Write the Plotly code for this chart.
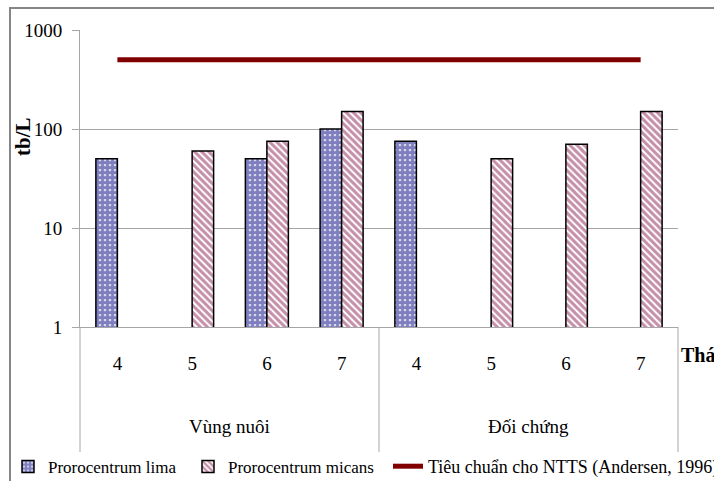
import plotly.graph_objects as go

# Monthly cell density (tb/L) at the farming area and the control site
groups = ["Vùng nuôi", "Đối chứng"]
months = ["4", "5", "6", "7", "4", "5", "6", "7"]
lima = [50, None, 50, 100, 75, None, None, None]
micans = [None, 60, 75, 150, None, 50, 70, 150]
standard = [500, 500, 500, 500, 500, 500, 500, 500]
y_ticks = [1, 10, 100, 1000]
y_tick_text = ["1", "10", "100", "1000"]

SERIF = "Liberation Serif"
GRID = "#a6a6a6"

W, H = 714, 481
ML, MR, MT, MB = 80, 36, 30, 154
PW, PH = W - ML - MR, H - MT - MB


def px_to_paper_y(py):
    return (H - MB - py) / PH


def px_to_paper_x(px):
    return (px - ML) / PW


pos = list(range(len(months)))

fig = go.Figure()
fig.add_trace(go.Bar(
    x=pos, y=lima, name="Prorocentrum lima", legendwidth=135,
    marker=dict(color="white", line=dict(color="black", width=1.5),
                pattern=dict(shape=".", fgcolor="#000080", bgcolor="white",
                             size=5, solidity=0.8, fillmode="overlay")),
))
fig.add_trace(go.Bar(
    x=pos, y=micans, name="Prorocentrum micans", legendwidth=155,
    marker=dict(color="white", line=dict(color="black", width=1.5),
                pattern=dict(shape="\\", fgcolor="#8a2050", bgcolor="white",
                             size=5, solidity=0.6, fillmode="overlay")),
))
# Reference threshold gets its own legend so its long label is not squeezed
fig.add_trace(go.Scatter(
    x=pos, y=standard, mode="lines", name="Tiêu chuẩn cho NTTS (Andersen, 1996)",
    legend="legend2",
    line=dict(color="#800000", width=5),
))

legend_font = dict(family=SERIF, size=17, color="black")
fig.update_layout(
    width=W, height=H,
    margin=dict(l=ML, r=MR, t=MT, b=MB, autoexpand=False),
    paper_bgcolor="white", plot_bgcolor="white",
    barmode="group", bargap=0.425, bargroupgap=0,
    font=dict(family=SERIF, size=19, color="black"),
    showlegend=True,
    legend=dict(orientation="h", x=px_to_paper_x(8), xanchor="left",
                y=px_to_paper_y(449), yanchor="top", font=legend_font,
                bgcolor="rgba(0,0,0,0)", itemclick=False),
    legend2=dict(orientation="h", x=px_to_paper_x(388), xanchor="left",
                 y=px_to_paper_y(448), yanchor="top",
                 font=dict(family=SERIF, size=18, color="black"),
                 bgcolor="rgba(0,0,0,0)", itemclick=False),
)

fig.update_xaxes(
    range=[-0.5, 7.5], tickmode="array", tickvals=pos, ticktext=months,
    showgrid=False, zeroline=False, showline=True, linecolor=GRID, linewidth=1,
    ticks="", ticklabelstandoff=19, tickfont=dict(family=SERIF, size=19),
)
fig.update_yaxes(
    type="log", range=[0, 3], tickmode="array", tickvals=y_ticks, ticktext=y_tick_text,
    showgrid=True, gridcolor=GRID, gridwidth=1, zeroline=False,
    showline=True, linecolor=GRID, linewidth=1,
    ticks="outside", ticklen=7, tickcolor=GRID, ticklabelstandoff=6,
    tickfont=dict(family=SERIF, size=19),
)

# Category dividers below the axis
shapes = []
for xv, ref in [(0, "paper"), (3.5, "x"), (1, "paper")]:
    shapes.append(dict(type="line", xref=ref, yref="paper", x0=xv, x1=xv,
                       y0=0, y1=px_to_paper_y(452), line=dict(color=GRID, width=1)))
# Outer chart frame
shapes.append(dict(type="rect", xref="paper", yref="paper",
                   x0=px_to_paper_x(10), x1=px_to_paper_x(760),
                   y0=px_to_paper_y(520), y1=px_to_paper_y(8),
                   line=dict(color="#868686", width=2), fillcolor="rgba(0,0,0,0)"))
fig.update_layout(shapes=shapes)

annotations = [
    dict(x=1.5, xref="x", y=px_to_paper_y(426), yref="paper", text=groups[0],
         xanchor="center", yanchor="middle", showarrow=False,
         font=dict(family=SERIF, size=19)),
    dict(x=5.5, xref="x", y=px_to_paper_y(426), yref="paper", text=groups[1],
         xanchor="center", yanchor="middle", showarrow=False,
         font=dict(family=SERIF, size=19)),
    dict(x=px_to_paper_x(23), xref="paper", y=px_to_paper_y(137), yref="paper",
         text="<b>tb/L</b>", textangle=-90, xanchor="center", yanchor="middle",
         showarrow=False, font=dict(family=SERIF, size=21)),
    dict(x=px_to_paper_x(679), xref="paper", y=px_to_paper_y(355), yref="paper",
         xanchor="left", yanchor="middle", text="<b>Tháng</b>", showarrow=False,
         font=dict(family=SERIF, size=20)),
]
fig.update_layout(annotations=annotations)

fig.write_html("out.html")
